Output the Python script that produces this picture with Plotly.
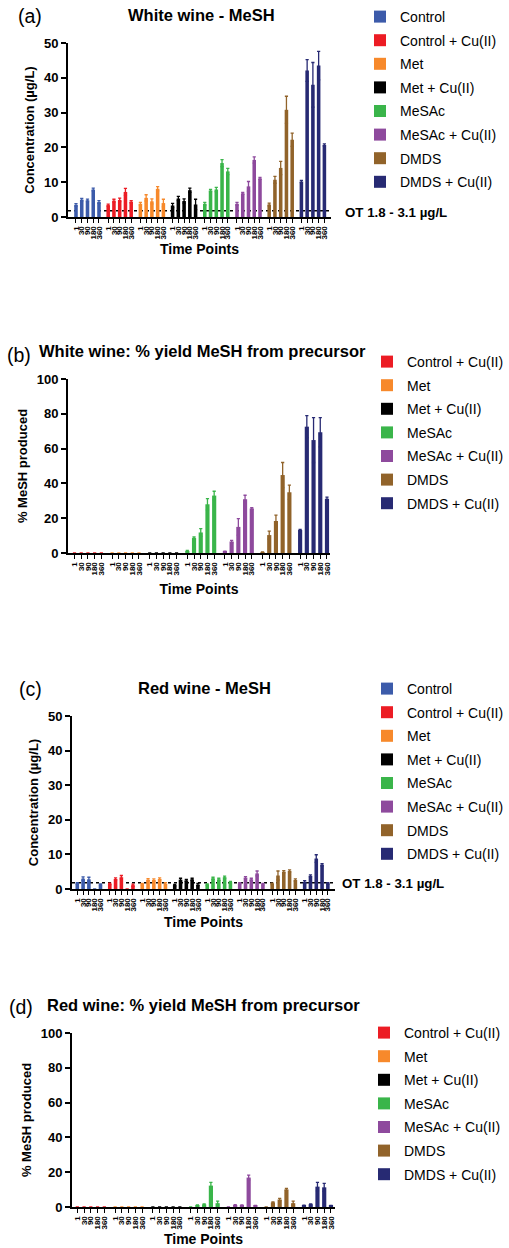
import plotly.graph_objects as go

# ---------------- data ----------------
TIME_LABELS = ["1", "30", "90", "180", "360"]
GROUPS_ALL = ["Control", "Control + Cu(II)", "Met", "Met + Cu(II)",
              "MeSAc", "MeSAc + Cu(II)", "DMDS", "DMDS + Cu(II)"]
GROUPS_YIELD = GROUPS_ALL[1:]
COLORS = {
    "Control": "#3C5BAA", "Control + Cu(II)": "#EC1C24", "Met": "#F7892B",
    "Met + Cu(II)": "#000000", "MeSAc": "#3AB54A", "MeSAc + Cu(II)": "#8E4A9D",
    "DMDS": "#91632A", "DMDS + Cu(II)": "#272A73",
}
OT_LOW = 1.8
OT_LABEL = "OT 1.8 - 3.1 µg/L"

# (a) White wine - MeSH (µg/L)
A_MEAN = [
    [3.5, 5.0, 4.8, 7.9, 4.3],
    [3.4, 4.7, 4.9, 7.2, 4.4],
    [3.8, 5.5, 4.5, 8.1, 4.0],
    [3.3, 5.3, 4.6, 7.7, 3.6],
    [3.8, 7.6, 7.9, 15.5, 13.1],
    [3.8, 6.8, 8.8, 16.4, 11.1],
    [3.6, 10.7, 14.1, 30.8, 22.2],
    [10.2, 42.1, 38.0, 43.5, 20.7],
]
A_ERR = [
    [0.35, 0.35, 0.35, 0.4, 0.4],
    [0.3, 0.4, 0.5, 1.0, 0.3],
    [0.4, 0.9, 0.7, 0.6, 1.1],
    [0.6, 0.6, 0.6, 0.6, 1.5],
    [0.4, 0.3, 0.6, 1.0, 0.9],
    [0.4, 0.3, 1.4, 0.9, 0.3],
    [0.4, 1.0, 1.9, 3.9, 1.9],
    [0.3, 3.1, 6.4, 4.1, 0.3],
]
# (b) White wine: % yield
B_MEAN = [
    [0, 0, 0, 0, 0],
    [0, 0, 0, 0, 0],
    [0, 0, 0, 0, 0],
    [1.2, 8.6, 11.8, 28.0, 33.0],
    [0.9, 6.6, 15.0, 30.9, 25.6],
    [0.4, 10.3, 18.4, 44.8, 34.9],
    [13.2, 72.6, 64.9, 69.4, 31.2],
]
B_ERR = [
    [0, 0, 0, 0, 0],
    [0, 0, 0, 0, 0],
    [0, 0, 0, 0, 0],
    [0.3, 0.6, 2.2, 3.3, 2.5],
    [0.2, 0.7, 4.8, 2.3, 0.5],
    [0.2, 2.3, 3.4, 7.2, 4.1],
    [0.4, 6.3, 12.9, 8.4, 0.9],
]
# (c) Red wine - MeSH (µg/L)
C_MEAN = [
    [1.6, 3.0, 2.8, 0, 1.3],
    [1.5, 2.9, 3.4, 0, 1.1],
    [1.4, 2.7, 2.6, 2.9, 1.5],
    [1.1, 2.7, 2.5, 2.8, 1.3],
    [1.3, 3.1, 2.8, 3.4, 2.0],
    [1.6, 3.3, 2.8, 4.5, 1.4],
    [1.5, 3.9, 5.0, 5.2, 2.6],
    [2.1, 3.8, 8.8, 7.0, 1.6],
]
C_ERR = [
    [0.2, 0.5, 0.6, 0, 0.2],
    [0.2, 0.3, 0.5, 0, 0.3],
    [0.2, 0.3, 0.3, 0.3, 0.3],
    [0.2, 0.4, 0.3, 0.3, 0.3],
    [0.2, 0.3, 0.3, 0.3, 0.2],
    [0.2, 0.3, 0.3, 0.7, 0.2],
    [0.2, 1.3, 0.3, 0.3, 0.3],
    [0.3, 0.3, 1.1, 0.3, 0.2],
]
# (d) Red wine: % yield
D_MEAN = [
    [0, 0, 0, 0, 0],
    [0, 0, 0, 0, 0],
    [0, 0, 0, 0, 0],
    [0, 1.0, 1.5, 12.3, 2.2],
    [0, 1.1, 1.0, 16.9, 0.8],
    [0, 2.6, 4.3, 10.1, 2.2],
    [1.0, 1.6, 11.7, 11.3, 0.8],
]
D_ERR = [
    [0, 0, 0, 0, 0],
    [0, 0, 0, 0, 0],
    [0, 0, 0, 0, 0],
    [0, 0.2, 0.3, 1.8, 1.2],
    [0, 0.2, 0.2, 1.4, 0.1],
    [0, 0.3, 0.6, 0.6, 1.2],
    [0.1, 0.2, 2.4, 2.3, 0.1],
]

# ---------------- layout helpers ----------------
W, H = 509, 1248
GP = 5.6          # group pitch in slot units
BAR_W = 0.62
FONT = "Liberation Sans, Arial, Helvetica, sans-serif"


def px(x):
    return x / W


def py(y):
    return 1 - y / H


panels = [
    dict(groups=GROUPS_ALL, mean=A_MEAN, err=A_ERR, xd=(68, 331), yd=(217, 43),
         xr=[-1.39, 44.35], yr=[0, 50], dt=10, yt="Concentration (µg/L)",
         title="White wine - MeSH", tag="(a)", tagpos=(16, 16), titlepos=(201, 15),
         leg=(360, 1), ot=(343, 212), xts=6),
    dict(groups=GROUPS_YIELD, mean=B_MEAN, err=B_ERR, xd=(68, 330), yd=(553, 379),
         xr=[-0.97, 38.05], yr=[0, 100], dt=20, yt="% MeSH produced",
         title="White wine: % yield MeSH from precursor", tag="(b)", tagpos=(5, 355),
         titlepos=(202, 351), leg=(367, 346), ot=None, xts=10),
    dict(groups=GROUPS_ALL, mean=C_MEAN, err=C_ERR, xd=(72, 335), yd=(889, 716),
         xr=[-0.91, 44.43], yr=[0, 50], dt=10, yt="Concentration (µg/L)",
         title="Red wine - MeSH", tag="(c)", tagpos=(17, 689), titlepos=(204, 688),
         leg=(367, 673), ot=(340, 883), xts=7),
    dict(groups=GROUPS_YIELD, mean=D_MEAN, err=D_ERR, xd=(72, 335), yd=(1207, 1033),
         xr=[-0.79, 38.2], yr=[0, 100], dt=20, yt="% MeSH produced",
         title="Red wine: % yield MeSH from precursor", tag="(d)", tagpos=(7, 1007),
         titlepos=(203, 1005), leg=(364, 1017), ot=None, xts=6),
]

fig = go.Figure()
annotations = []
shapes = []

for i, p in enumerate(panels):
    n = i + 1
    xa = "x" if n == 1 else f"x{n}"
    ya = "y" if n == 1 else f"y{n}"
    lg = "legend" if n == 1 else f"legend{n}"
    tickvals, ticktext = [], []
    for g, name in enumerate(p["groups"]):
        xs = [g * GP + t for t in range(len(TIME_LABELS))]
        tickvals += xs
        ticktext += TIME_LABELS
        errs = [e if e > 0 else None for e in p["err"][g]]
        fig.add_trace(go.Bar(
            x=xs, y=p["mean"][g], name=name, width=BAR_W,
            marker=dict(color=COLORS[name], line=dict(width=0)),
            error_y=dict(type="data", array=errs, symmetric=True,
                         color=COLORS[name], thickness=1.3, width=1.6),
            xaxis=xa, yaxis=ya, legend=lg, legendgroup=f"{n}-{g}",
        ))
    xkey = "xaxis" if n == 1 else f"xaxis{n}"
    ykey = "yaxis" if n == 1 else f"yaxis{n}"
    fig.update_layout(**{
        xkey: dict(domain=[px(p["xd"][0]), px(p["xd"][1])], range=p["xr"],
                   anchor=ya, showline=True, linecolor="black", linewidth=2,
                   ticks="outside", ticklen=4, tickwidth=1.2, tickcolor="black",
                   tickvals=tickvals, ticktext=ticktext, tickangle=-90,
                   tickfont=dict(family=FONT, size=8, color="black", weight="bold"),
                   showgrid=False, zeroline=False, fixedrange=True, automargin=False,
                   title=dict(text="Time Points", standoff=p["xts"],
                              font=dict(family=FONT, size=14, color="black", weight="bold"))),
        ykey: dict(domain=[py(p["yd"][0]), py(p["yd"][1])], range=p["yr"],
                   anchor=xa, showline=True, linecolor="black", linewidth=2,
                   ticks="outside", ticklen=5, tickwidth=2, tickcolor="black",
                   dtick=p["dt"], tick0=0,
                   tickfont=dict(family=FONT, size=13, color="black", weight="bold"),
                   showgrid=False, zeroline=False, fixedrange=True, automargin=False,
                   title=dict(text=p["yt"], standoff=6,
                              font=dict(family=FONT, size=13, color="black", weight="bold"))),
        lg: dict(x=px(p["leg"][0]), y=py(p["leg"][1]), xanchor="left", yanchor="top",
                 font=dict(family=FONT, size=14, color="black"),
                 bgcolor="rgba(0,0,0,0)", tracegroupgap=2.4, traceorder="grouped",
                 itemclick=False, itemdoubleclick=False),
    })
    annotations.append(dict(text=p["tag"], x=px(p["tagpos"][0]), y=py(p["tagpos"][1]),
                            xref="paper", yref="paper", xanchor="left", yanchor="middle",
                            showarrow=False, font=dict(family=FONT, size=19.5, color="black")))
    annotations.append(dict(text=p["title"], x=px(p["titlepos"][0]), y=py(p["titlepos"][1]),
                            xref="paper", yref="paper", xanchor="center", yanchor="middle",
                            showarrow=False,
                            font=dict(family=FONT, size=16.5, color="black", weight="bold")))
    if p["ot"] is not None:
        shapes.append(dict(type="line", xref=f"{xa} domain", yref=ya, x0=0, x1=1,
                           y0=OT_LOW, y1=OT_LOW, layer="below",
                           line=dict(color="black", width=1.5, dash="dot")))
        annotations.append(dict(text=OT_LABEL, x=px(p["ot"][0]), y=py(p["ot"][1]),
                                xref="paper", yref="paper", xanchor="left", yanchor="middle",
                                showarrow=False,
                                font=dict(family=FONT, size=13.3, color="black", weight="bold")))

fig.update_layout(
    width=W, height=H, margin=dict(l=0, r=0, t=0, b=0, autoexpand=False),
    paper_bgcolor="white", plot_bgcolor="white",
    barmode="overlay", showlegend=True,
    annotations=annotations, shapes=shapes,
    font=dict(family=FONT, color="black"),
)

fig.write_html("out.html", config={"displayModeBar": False},
               post_script="document.body.style.margin='0';document.body.style.overflow='hidden';")
